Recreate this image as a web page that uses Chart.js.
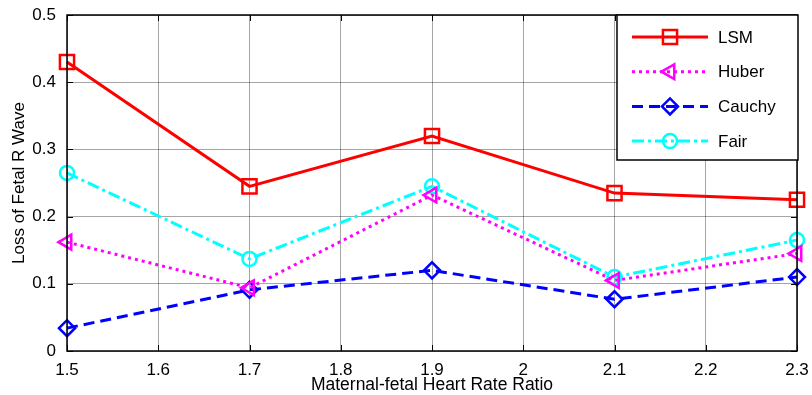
<!DOCTYPE html>
<html>
<head>
<meta charset="utf-8">
<script src="https://cdn.jsdelivr.net/npm/chart.js@4"></script>
<style>
  body { margin: 0; background: #fff; }
  #wrap { width: 812px; height: 395px; }
</style>
</head>
<body>
<div id="wrap"><canvas id="lossChart"></canvas></div>
<script>
const ratios = [1.5, 1.7, 1.9, 2.1, 2.3];
const lsm = [0.43, 0.245, 0.32, 0.235, 0.225];
const huber = [0.162, 0.094, 0.232, 0.105, 0.145];
const cauchy = [0.034, 0.091, 0.12, 0.077, 0.11];
const fair = [0.265, 0.137, 0.245, 0.11, 0.165];
const xTicks = [1.5, 1.6, 1.7, 1.8, 1.9, 2, 2.1, 2.2, 2.3];
const yTicks = [0, 0.1, 0.2, 0.3, 0.4, 0.5];

const FONT = 'Arial, "Liberation Sans", sans-serif';

function pts(vals) {
    return vals.map((v, i) => ({ x: ratios[i], y: v }));
}

// box around the axes, inner tick marks, and the legend in the upper right corner
const boxAndLegend = {
    id: 'boxAndLegend',
    afterDatasetsDraw(chart) {
        const ctx = chart.ctx;
        const a = chart.chartArea;
        const sx = chart.scales.x, sy = chart.scales.y;
        ctx.save();
        ctx.strokeStyle = '#000';
        ctx.lineWidth = 1;
        ctx.beginPath();
        xTicks.forEach(v => {
            const px = Math.round(sx.getPixelForValue(v)) + 0.5;
            ctx.moveTo(px, a.bottom); ctx.lineTo(px, a.bottom - 6);
            ctx.moveTo(px, a.top); ctx.lineTo(px, a.top + 6);
        });
        yTicks.forEach(v => {
            const py = Math.round(sy.getPixelForValue(v)) + 0.5;
            ctx.moveTo(a.left, py); ctx.lineTo(a.left + 6, py);
            ctx.moveTo(a.right, py); ctx.lineTo(a.right - 6, py);
        });
        ctx.stroke();
        ctx.lineWidth = 1.5;
        ctx.strokeRect(a.left, a.top, a.right - a.left, a.bottom - a.top);

        const lx = 617, ly = a.top, lw = 181, lh = 145;
        ctx.fillStyle = '#fff';
        ctx.fillRect(lx, ly, lw, lh);
        ctx.lineWidth = 1.5;
        ctx.strokeRect(lx, ly, lw, lh);

        chart.data.datasets.forEach((ds, i) => {
            const y = ly + 22 + i * 34.7;
            ctx.setLineDash(ds.borderDash || []);
            ctx.strokeStyle = ds.borderColor;
            ctx.lineWidth = ds.borderWidth;
            ctx.beginPath();
            ctx.moveTo(632, y);
            ctx.lineTo(708, y);
            ctx.stroke();
            ctx.setLineDash([]);
            ctx.strokeStyle = ds.borderColor;
            ctx.fillStyle = 'transparent';
            ctx.lineWidth = ds.pointBorderWidth;
            Chart.helpers.drawPoint(ctx, {
                pointStyle: ds.pointStyle,
                rotation: ds.pointRotation || 0,
                radius: ds.pointRadius,
                borderWidth: ds.pointBorderWidth
            }, 670, y);
            ctx.fillStyle = '#000';
            ctx.font = '17px ' + FONT;
            ctx.textBaseline = 'middle';
            ctx.fillText(ds.label, 718, y + 1);
        });
        ctx.restore();
    }
};

const ctx = document.getElementById('lossChart').getContext('2d');

const lossChart = new Chart(ctx, {
    type: 'line',
    data: {
        datasets: [{
            label: 'LSM',
            data: pts(lsm),
            borderColor: '#ff0000',
            borderWidth: 3,
            pointStyle: 'rect',
            pointRadius: 10,
            pointBorderWidth: 2.5,
            pointBackgroundColor: 'transparent'
        }, {
            label: 'Huber',
            data: pts(huber),
            borderColor: '#ff00ff',
            borderWidth: 3,
            borderDash: [3, 4],
            pointStyle: 'triangle',
            pointRotation: -90,
            pointRadius: 8.5,
            pointBorderWidth: 2.5,
            pointBackgroundColor: 'transparent'
        }, {
            label: 'Cauchy',
            data: pts(cauchy),
            borderColor: '#0000ff',
            borderWidth: 3,
            borderDash: [11, 6],
            pointStyle: 'rectRot',
            pointRadius: 8,
            pointBorderWidth: 2.5,
            pointBackgroundColor: 'transparent'
        }, {
            label: 'Fair',
            data: pts(fair),
            borderColor: '#00ffff',
            borderWidth: 3,
            borderDash: [12, 4, 3, 4],
            pointStyle: 'circle',
            pointRadius: 7,
            pointBorderWidth: 2.5,
            pointBackgroundColor: 'transparent'
        }]
    },
    options: {
        responsive: true,
        maintainAspectRatio: false,
        animation: false,
        clip: false,
        layout: {
            padding: { top: 15, right: 15, left: 0, bottom: 0 }
        },
        scales: {
            x: {
                type: 'linear',
                min: 1.5,
                max: 2.3,
                afterBuildTicks: (scale) => {
                    scale.ticks = xTicks.map(v => ({ value: v }));
                },
                afterFit: (scale) => {
                    scale.height = 44;
                    scale.paddingLeft = 0;
                    scale.paddingRight = 0;
                },
                grid: {
                    color: 'rgba(0,0,0,0.35)',
                    drawTicks: false
                },
                border: { display: false },
                ticks: {
                    padding: 9,
                    maxRotation: 0,
                    autoSkip: false,
                    color: '#000',
                    font: { family: FONT, size: 17 },
                    callback: (v) => String(Number(v.toFixed(1)))
                },
                title: {
                    display: true,
                    text: 'Maternal-fetal Heart Rate Ratio',
                    color: '#000',
                    font: { family: FONT, size: 17.5 },
                    padding: { top: 0, bottom: -1 }
                }
            },
            y: {
                min: 0,
                max: 0.5,
                afterBuildTicks: (scale) => {
                    scale.ticks = yTicks.map(v => ({ value: v }));
                },
                afterFit: (scale) => {
                    scale.width = 67;
                    scale.paddingTop = 0;
                    scale.paddingBottom = 0;
                },
                grid: {
                    color: 'rgba(0,0,0,0.35)',
                    drawTicks: false
                },
                border: { display: false },
                ticks: {
                    padding: 11,
                    color: '#000',
                    font: { family: FONT, size: 17 },
                    callback: (v) => String(Number(v.toFixed(1)))
                },
                title: {
                    display: true,
                    text: 'Loss of Fetal R Wave',
                    color: '#000',
                    font: { family: FONT, size: 17 },
                    padding: { top: 9, bottom: 0 }
                }
            }
        },
        plugins: {
            legend: { display: false },
            tooltip: { enabled: false }
        }
    },
    plugins: [boxAndLegend]
});
</script>
</body>
</html>
